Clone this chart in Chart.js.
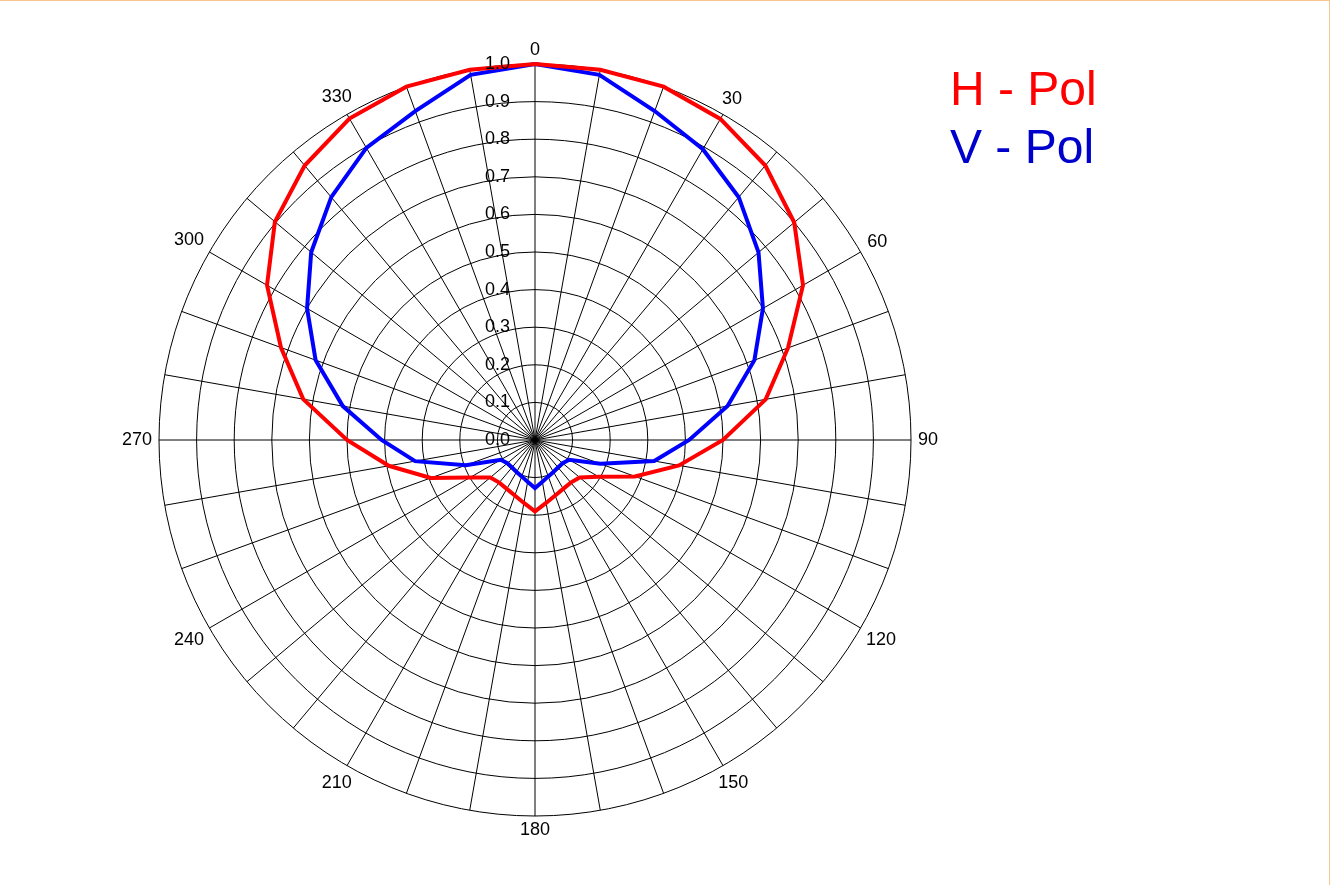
<!DOCTYPE html>
<html>
<head>
<meta charset="utf-8">
<script src="https://cdn.jsdelivr.net/npm/chart.js@4"></script>
<style>
    html, body {
        margin: 0;
        padding: 0;
        background: #fff;
    }
    #frame {
        position: absolute;
        left: 0;
        top: 0;
        width: 1330px;
        height: 885px;
        border-top: 1px solid #f9c690;
        border-right: 1px solid #f9c690;
        box-sizing: border-box;
    }
    #polar {
        position: absolute;
        left: 109px;
        top: 14px;
    }
    #legend {
        position: absolute;
        left: 950px;
        top: 60px;
        font-family: "Liberation Sans", Arial, sans-serif;
        font-size: 48px;
        line-height: 58px;
        white-space: nowrap;
    }
</style>
</head>
<body>
<div id="frame"></div>
<canvas id="polar" width="852" height="852"></canvas>
<div id="legend"></div>
<script>
const angles = ['0', '10', '20', '30', '40', '50', '60', '70', '80', '90', '100', '110',
    '120', '130', '140', '150', '160', '170', '180', '190', '200', '210', '220', '230',
    '240', '250', '260', '270', '280', '290', '300', '310', '320', '330', '340', '350'];

const seriesNames = ['H - Pol', 'V - Pol'];

const hPol = [1.0, 1.0, 1.0, 0.986, 0.953, 0.90, 0.823, 0.716, 0.623, 0.50, 0.389, 0.283,
    0.195, 0.155, 0.148, 0.15, 0.157, 0.17, 0.19, 0.17, 0.157, 0.15, 0.148, 0.155,
    0.20, 0.295, 0.395, 0.50, 0.626, 0.719, 0.823, 0.903, 0.953, 0.987, 1.0, 1.0];

const vPol = [1.0, 0.986, 0.931, 0.893, 0.843, 0.776, 0.70, 0.621, 0.52, 0.41, 0.322, 0.185,
    0.105, 0.096, 0.095, 0.098, 0.103, 0.113, 0.128, 0.113, 0.103, 0.098, 0.095, 0.096,
    0.105, 0.196, 0.324, 0.408, 0.519, 0.621, 0.70, 0.777, 0.843, 0.897, 0.931, 0.986];

const tickLabels = ['0.0', '0.1', '0.2', '0.3', '0.4', '0.5', '0.6', '0.7', '0.8', '0.9', '1.0'];

const FONT = '18px "Liberation Sans", Arial, sans-serif';

// tick numbers sit left of the 0 spoke, angle numbers every 30 deg outside the rim
const polarText = {
    id: 'polarText',
    afterDatasetsDraw(chart) {
        const r = chart.scales.r;
        const ctx = chart.ctx;
        ctx.save();
        ctx.font = FONT;
        ctx.fillStyle = '#000';
        ctx.textAlign = 'center';
        ctx.textBaseline = 'middle';
        r.ticks.forEach((t, i) => {
            const p = r.getPointPositionForValue(0, t.value);
            ctx.fillText(tickLabels[i], p.x - 37.5, p.y);
        });
        angles.forEach((a, i) => {
            if (Number(a) % 30 !== 0) return;
            const ang = r.getIndexAngle(i);
            const w = ctx.measureText(a).width;
            const ext = Math.abs(Math.sin(ang)) * w / 2 + Math.abs(Math.cos(ang)) * 7;
            const p = r.getPointPosition(i, r.drawingArea + 7 + ext);
            ctx.fillText(a, p.x, p.y);
        });
        ctx.restore();
    }
};

const chart = new Chart(document.getElementById('polar'), {
    type: 'radar',
    data: {
        labels: angles,
        datasets: [{
            label: seriesNames[0],
            data: hPol,
            borderColor: '#ff0000',
            borderWidth: 4,
            pointRadius: 0,
            fill: false,
            tension: 0
        }, {
            label: seriesNames[1],
            data: vPol,
            borderColor: '#0000ff',
            borderWidth: 4,
            pointRadius: 0,
            fill: false,
            tension: 0
        }]
    },
    options: {
        responsive: false,
        animation: false,
        layout: { padding: 50 },
        plugins: {
            legend: { display: false },
            tooltip: { enabled: false }
        },
        scales: {
            r: {
                min: 0,
                max: 1,
                startAngle: 0,
                ticks: { display: false, stepSize: 0.1 },
                grid: { circular: true, color: '#000', lineWidth: 1 },
                angleLines: { color: '#000', lineWidth: 1 },
                pointLabels: { display: false }
            }
        }
    },
    plugins: [polarText]
});

const legendColors = ['#ff0000', '#0000cc'];
const legend = document.getElementById('legend');
seriesNames.forEach((name, i) => {
    const d = document.createElement('div');
    d.textContent = name;
    d.style.color = legendColors[i];
    legend.appendChild(d);
});
</script>
</body>
</html>
